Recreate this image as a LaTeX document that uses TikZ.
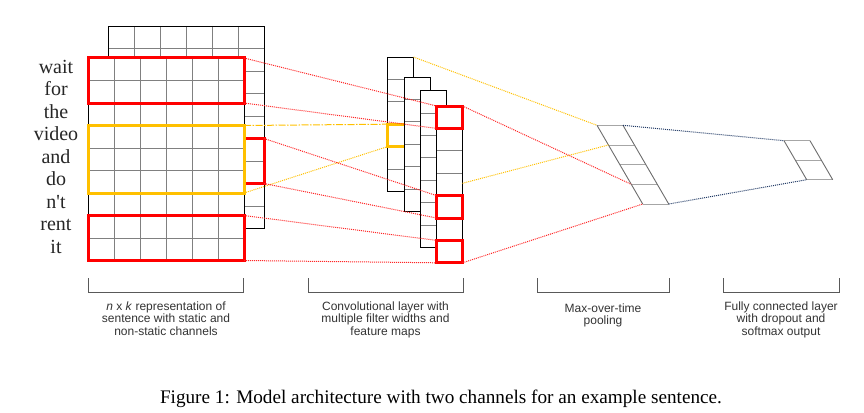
\documentclass[tikz,border=0pt]{standalone}
\usepackage{fontspec}
\setmainfont{Liberation Serif}
\setsansfont{Liberation Sans}
\definecolor{boxred}{RGB}{255,0,0}
\definecolor{boxamber}{RGB}{255,192,0}
\definecolor{linknavy}{RGB}{31,56,100}
\definecolor{labelgray}{RGB}{51,51,51}

\begin{document}
\begin{tikzpicture}
[x=1pt,y=-1pt,
  gridLine/.style={draw=gray,line width=0.8pt},
  frameLine/.style={draw=black,line width=0.9pt},
  cellDecorate/.style={shape=rectangle,inner sep=0pt,outer sep=0pt,line width=3pt},
  redDecorate/.style={cellDecorate,draw=boxred},
  amberDecorate/.style={cellDecorate,draw=boxamber},
  mapDecorate/.style={shape=rectangle,inner sep=0pt,outer sep=0pt,fill=white,anchor=north west,minimum width=26pt},
  redLink/.style={-,draw=boxred!85,densely dotted,line width=1pt},
  amberLink/.style={-,draw=boxamber,densely dotted,line width=1pt},
  amberDash/.style={-,draw=boxamber,line width=1pt,dash pattern=on 7pt off 1.5pt on 1.5pt off 1.5pt},
  navyLink/.style={-,draw=linknavy,densely dotted,line width=1pt},
  poolLine/.style={draw=gray!85!black,line width=0.9pt},
  wordDecorate/.style={anchor=base,font=\fontsize{20}{24}\selectfont,text=black!85},
  labelDecorate/.style={anchor=north,align=center,inner sep=0pt,text=labelgray,font=\sffamily\fontsize{12}{12.4}\selectfont},
  braceLine/.style={draw=black!65,line width=0.8pt}]

\useasboundingbox (0,0) rectangle (864,412);

%% sentence matrix, back channel
\begin{scope}[shift={(108,26)}]
\fill[white] (0,0) rectangle (156,202.5);
\foreach \i in {1,...,5} \draw[gridLine] (26*\i,0) -- (26*\i,202.5);
\foreach \j in {1,...,8} \draw[gridLine] (0,22.5*\j) -- (156,22.5*\j);
\draw[frameLine] (0,0) rectangle (156,202.5);
\end{scope}
\node (backbox) at (186,161) [redDecorate,minimum width=156pt,minimum height=45pt] {};

%% sentence matrix, front channel
\begin{scope}[shift={(88,58)}]
\fill[white] (0,0) rectangle (156,202.5);
\foreach \i in {1,...,5} \draw[gridLine] (26*\i,0) -- (26*\i,202.5);
\foreach \j in {1,...,8} \draw[gridLine] (0,22.5*\j) -- (156,22.5*\j);
\draw[frameLine] (0,0) rectangle (156,202.5);
\end{scope}
\node (topbox) at (166,80.5) [redDecorate,minimum width=156pt,minimum height=45pt] {};
\node (midbox) at (166,159.25) [amberDecorate,minimum width=156pt,minimum height=67.5pt] {};
\node (lowbox) at (166,238) [redDecorate,minimum width=156pt,minimum height=45pt] {};

%% words
\foreach \word [count=\k] in {wait,for,the,video,and,do,n\textquotesingle t,rent,it}
{
  \node (word\k) at (56,50.95+22.5*\k) [wordDecorate] {\word};
}

%% feature maps
\foreach \n/\x/\y/\c in {1/387.5/57/6, 2/404/77/6, 3/420.5/90.5/7, 4/436.5/106/7}
{
  \node (map\n) at (\x,\y) [mapDecorate,minimum height=\c*22.4pt] {};
  \foreach \j in {2,...,\c} \draw[gridLine] (\x,\y+22.4*\j-22.4) -- (\x+26,\y+22.4*\j-22.4);
  \draw[frameLine] (map\n.north west) rectangle (map\n.south east);
  \ifnum\n=1
    \node (ambercell) at (400.5,135.4) [amberDecorate,minimum width=26pt,minimum height=22.4pt] {};
  \fi
}
\foreach \name/\y in {featA/117.2, featB/206.8, featC/251.6}
{
  \node (\name) at (449.5,\y) [redDecorate,minimum width=26pt,minimum height=22.4pt] {};
}
\coordinate (amberexit) at (462.5,183.3);

%% max-over-time pooling
\foreach \i in {0,...,4}
{
  \coordinate (pl\i) at (597+11.43*\i,125.3+19.68*\i);
  \coordinate (pr\i) at (623+11.43*\i,125.3+19.68*\i);
  \draw[poolLine,draw=gray!70] (pl\i) -- (pr\i);
}
\draw[poolLine] (pl0) -- (pl4) (pr0) -- (pr4);

%% fully connected layer
\foreach \i in {0,...,2}
{
  \coordinate (fl\i) at (784+11.35*\i,140.7+19.5*\i);
  \coordinate (fr\i) at (810+11.35*\i,140.7+19.5*\i);
  \draw[poolLine,draw=gray!70] (fl\i) -- (fr\i);
}
\draw[poolLine] (fl0) -- (fl2) (fr0) -- (fr2);

%% connections
\path (midbox.north east) edge[amberDash] (ambercell.north west);
\path
\foreach \startnode/\endnode in {
  midbox.south east/ambercell.south west, map1.north east/pl0, amberexit/pl1}
{
  (\startnode) edge[amberLink] (\endnode)
};
\path
\foreach \startnode/\endnode in {
  topbox.north east/featA.north west, topbox.south east/featA.south west,
  backbox.north east/featB.north west, backbox.south east/featB.south west,
  lowbox.north east/featC.north west, lowbox.south east/featC.south west,
  featA.north east/pl3, featC.south east/pl4}
{
  (\startnode) edge[redLink] (\endnode)
};
\path
\foreach \startnode/\endnode in {pr0/fl0, pr4/fl2}
{
  (\startnode) edge[navyLink] (\endnode)
};

%% brackets and labels
\foreach \a/\b [count=\k] in {88.3/243.3, 308.3/463.3, 537.3/669, 723.3/839}
{
  \coordinate (brL\k) at (\a,278);
  \coordinate (brR\k) at (\b,278);
  \draw[braceLine] (brL\k) -- ++(0,14.5) -| (brR\k);
}
\node (label1) at (166,301.5) [labelDecorate] {\textit{n} x \textit{k} representation of\\sentence with static and\\non-static channels};
\node (label2) at (385.5,301.5) [labelDecorate] {Convolutional layer with\\multiple filter widths and\\feature maps};
\node (label3) at (603,303.5) [labelDecorate] {Max-over-time\\pooling};
\node (label4) at (781,301.5) [labelDecorate] {Fully connected layer\\with dropout and\\softmax output};

%% caption
\node (caption) at (441,403.3) [anchor=base,font=\fontsize{19.2}{22}\selectfont] {Figure 1: Model architecture with two channels for an example sentence.};
\end{tikzpicture}
\end{document}
